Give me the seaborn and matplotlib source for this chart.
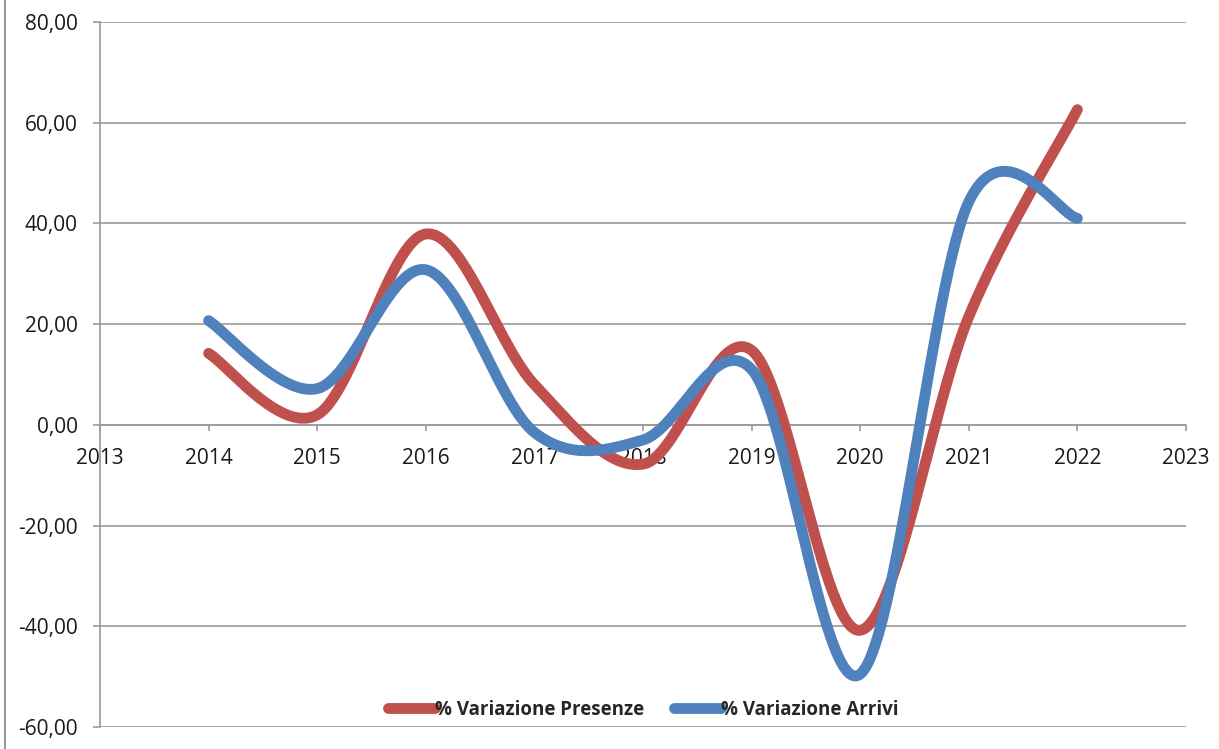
#!/usr/bin/env python3

import numpy as np
import pandas as pd
import matplotlib
matplotlib.use("Agg")
import matplotlib.pyplot as plt
import seaborn as sns

years = [2014, 2015, 2016, 2017, 2018, 2019, 2020, 2021, 2022]
presenze = [14.2, 2.0, 37.9, 8.0, -7.8, 14.8, -40.8, 21.5, 62.6]
arrivi = [20.7, 7.2, 30.8, -1.5, -3.0, 11.0, -49.5, 44.3, 41.0]

series_names = ["% Variazione Presenze", "% Variazione Arrivi"]
palette = ["#C0504D", "#4F81BD"]
y_ticks = [-60, -40, -20, 0, 20, 40, 60, 80]
x_ticks = list(range(2013, 2024))


def smooth(xs, ys, n=60):
    # Excel-style smoothed line: Catmull-Rom bezier through every point
    p = np.column_stack([xs, ys]).astype(float)
    p = np.vstack([p[0], p, p[-1]])
    out = []
    t = np.linspace(0, 1, n)[:, None]
    for i in range(1, len(p) - 2):
        b0 = p[i]
        b1 = p[i] + (p[i + 1] - p[i - 1]) / 6
        b2 = p[i + 1] - (p[i + 2] - p[i]) / 6
        b3 = p[i + 1]
        seg = ((1 - t) ** 3) * b0 + 3 * ((1 - t) ** 2) * t * b1 + 3 * (1 - t) * t ** 2 * b2 + t ** 3 * b3
        out.append(seg if i == 1 else seg[1:])
    return np.vstack(out)


frames = []
for name, vals in zip(series_names, [presenze, arrivi]):
    pts = smooth(years, vals)
    frames.append(pd.DataFrame({"anno": pts[:, 0], "valore": pts[:, 1], "serie": name}))
df = pd.concat(frames, ignore_index=True)

sns.set_style("white")
plt.rcParams["font.family"] = ["Open Sans", "DejaVu Sans"]

fig = plt.figure(figsize=(12.19, 7.49), dpi=100)
ax = fig.add_axes([100 / 1219, 22 / 749, (1186 - 100) / 1219, (727 - 22) / 749])

sns.lineplot(data=df, x="anno", y="valore", hue="serie",
             palette=palette, linewidth=7.8, sort=False, estimator=None,
             solid_capstyle="round", ax=ax, legend=True)

ax.set_xlim(2013, 2023)
ax.set_ylim(-60, 80)
ax.set_xticks(x_ticks)
ax.set_yticks(y_ticks)
ax.set_yticklabels([f"{v:.2f}".replace(".", ",") for v in y_ticks])
ax.set_xlabel("")
ax.set_ylabel("")

grey = "#9a9a9a"
ax.grid(axis="y", color=grey, linewidth=1.2)
ax.set_axisbelow(True)
for s in ["top", "right"]:
    ax.spines[s].set_visible(False)
ax.spines["left"].set_color(grey)
ax.spines["left"].set_linewidth(1.2)
ax.spines["bottom"].set_position(("data", 0))
ax.spines["bottom"].set_color(grey)
ax.spines["bottom"].set_linewidth(1.2)
ax.spines["bottom"].set_zorder(0)

ax.tick_params(axis="y", direction="out", length=5, width=1.2, color=grey,
               pad=11, labelsize=15, labelcolor="#1a1a1a", left=True)
ax.tick_params(axis="x", direction="out", length=4.5, width=1.2, color=grey,
               pad=12, labelsize=15, labelcolor="#1a1a1a", bottom=True)

leg = ax.legend(loc="center", bbox_to_anchor=(0.5, (727 - 710) / (727 - 22)),
                ncol=2, frameon=False, handlelength=2.5, handletextpad=0.0,
                columnspacing=1.6, prop={"size": 13.5, "weight": "bold"})
for h in leg.get_lines():
    h.set_linewidth(7.8)
    h.set_solid_capstyle("round")

fig.add_artist(plt.Line2D([5 / 1219, 5 / 1219], [0, 1], color=grey, linewidth=1.5))

fig.savefig("out.png", dpi=100)
